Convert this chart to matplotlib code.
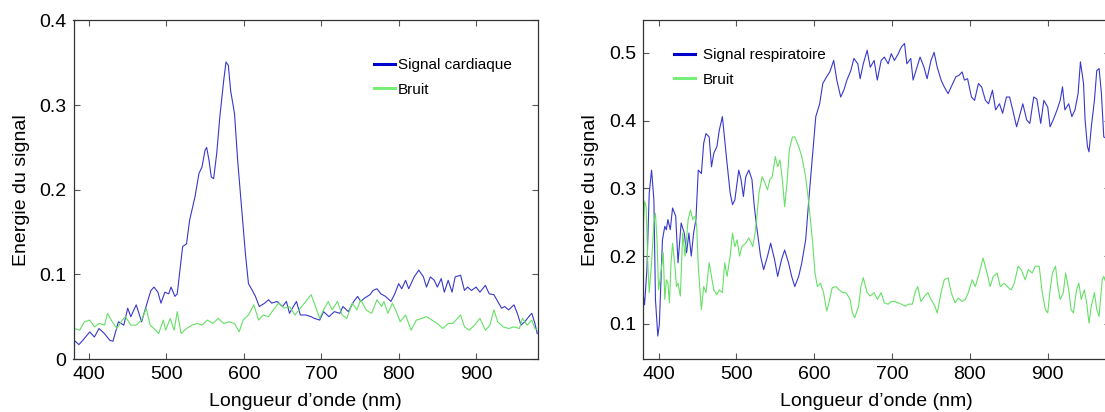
import matplotlib
matplotlib.use("Agg")
import matplotlib.pyplot as plt
from matplotlib.lines import Line2D

plt.rcParams['font.family'] = ['Liberation Sans', 'DejaVu Sans']

# panneau gauche : signal cardiaque / bruit
wl_card = [381, 387, 392, 401, 407, 413, 420, 427, 431, 438, 445, 450, 454, 461, 468, 475,
           480, 484, 489, 493, 498, 503, 506, 511, 514, 516, 521, 526, 530, 537, 542, 546,
           550, 552, 555, 558, 561, 565, 569, 574, 577, 580, 583, 588, 592, 597, 602, 606,
           611, 615, 620, 627, 632, 636, 643, 650, 655, 659, 664, 668, 673, 680, 687, 691,
           698, 703, 710, 717, 724, 728, 735, 742, 747, 751, 756, 763, 767, 772, 777, 783,
           790, 795, 800, 804, 809, 813, 820, 826, 832, 836, 841, 846, 850, 855, 859, 864,
           869, 873, 880, 885, 889, 894, 900, 905, 912, 917, 923, 928, 933, 937, 942, 949,
           954, 958, 963, 968, 972, 976, 979]
card = [0.022, 0.017, 0.022, 0.032, 0.026, 0.036, 0.030, 0.022, 0.021, 0.044, 0.040, 0.060,
        0.050, 0.064, 0.044, 0.066, 0.081, 0.085, 0.079, 0.066, 0.079, 0.077, 0.085, 0.074,
        0.077, 0.093, 0.133, 0.136, 0.164, 0.192, 0.219, 0.227, 0.247, 0.250, 0.235, 0.215,
        0.213, 0.243, 0.286, 0.329, 0.351, 0.347, 0.317, 0.290, 0.235, 0.180, 0.125, 0.089,
        0.081, 0.074, 0.062, 0.066, 0.070, 0.066, 0.068, 0.062, 0.068, 0.054, 0.062, 0.068,
        0.052, 0.052, 0.050, 0.048, 0.046, 0.056, 0.050, 0.056, 0.054, 0.062, 0.056, 0.068,
        0.074, 0.068, 0.072, 0.076, 0.081, 0.083, 0.077, 0.074, 0.068, 0.077, 0.089, 0.083,
        0.093, 0.083, 0.097, 0.105, 0.097, 0.085, 0.097, 0.093, 0.085, 0.095, 0.079, 0.093,
        0.079, 0.097, 0.099, 0.081, 0.085, 0.081, 0.085, 0.079, 0.087, 0.077, 0.076, 0.068,
        0.060, 0.062, 0.058, 0.064, 0.052, 0.040, 0.044, 0.050, 0.054, 0.042, 0.030]

wl_bruit1 = [381, 388, 394, 401, 407, 413, 420, 424, 430, 436, 443, 447, 454, 461, 468, 474,
             479, 484, 490, 496, 499, 505, 510, 514, 519, 526, 533, 540, 546, 553, 560, 567,
             574, 581, 588, 594, 599, 606, 613, 619, 625, 632, 638, 645, 652, 659, 666, 673,
             680, 687, 691, 698, 703, 709, 714, 721, 727, 733, 740, 746, 751, 758, 765, 772,
             778, 781, 786, 792, 797, 802, 809, 816, 823, 830, 836, 843, 850, 857, 864, 870,
             880, 885, 891, 898, 905, 912, 918, 923, 928, 935, 942, 949, 956, 960, 966, 972,
             976, 979]
bruit1 = [0.036, 0.034, 0.044, 0.046, 0.038, 0.042, 0.040, 0.054, 0.044, 0.036, 0.046, 0.050,
          0.040, 0.040, 0.046, 0.060, 0.040, 0.036, 0.030, 0.046, 0.034, 0.048, 0.034, 0.056,
          0.030, 0.036, 0.040, 0.042, 0.040, 0.046, 0.042, 0.048, 0.042, 0.044, 0.042, 0.032,
          0.046, 0.052, 0.064, 0.046, 0.052, 0.050, 0.058, 0.066, 0.060, 0.062, 0.052, 0.060,
          0.068, 0.076, 0.066, 0.048, 0.058, 0.068, 0.058, 0.068, 0.052, 0.048, 0.066, 0.058,
          0.070, 0.058, 0.054, 0.070, 0.062, 0.068, 0.054, 0.066, 0.056, 0.044, 0.052, 0.034,
          0.046, 0.048, 0.050, 0.046, 0.042, 0.036, 0.042, 0.042, 0.052, 0.038, 0.034, 0.040,
          0.048, 0.034, 0.040, 0.058, 0.044, 0.038, 0.036, 0.038, 0.036, 0.048, 0.040, 0.046,
          0.036, 0.034]

# panneau droit : signal respiratoire / bruit
wl_resp = [380, 382, 385, 388, 391, 394, 396, 399, 401, 405, 408, 410, 412, 415, 418, 422,
           425, 429, 433, 436, 439, 442, 445, 448, 451, 455, 458, 461, 465, 468, 471, 475,
           478, 482, 485, 488, 492, 495, 498, 503, 506, 509, 512, 516, 520, 523, 526, 531,
           535, 540, 544, 549, 553, 558, 562, 567, 571, 575, 580, 584, 589, 593, 598, 602,
           607, 611, 616, 620, 625, 629, 634, 638, 642, 647, 651, 656, 659, 663, 668, 672,
           677, 681, 686, 690, 695, 699, 703, 708, 712, 716, 719, 724, 727, 732, 736, 741,
           745, 750, 754, 758, 763, 767, 772, 776, 782, 786, 790, 793, 797, 802, 806, 811,
           815, 820, 824, 829, 833, 838, 842, 847, 851, 855, 860, 864, 868, 873, 877, 882,
           886, 891, 895, 900, 903, 907, 912, 916, 919, 922, 927, 931, 935, 939, 942, 946,
           948, 951, 953, 956, 960, 963, 966, 969, 972, 975]
resp = [0.146, 0.128, 0.180, 0.293, 0.327, 0.283, 0.136, 0.082, 0.099, 0.224, 0.244, 0.239,
        0.254, 0.239, 0.271, 0.259, 0.190, 0.249, 0.234, 0.205, 0.234, 0.200, 0.234, 0.254,
        0.327, 0.322, 0.367, 0.381, 0.376, 0.332, 0.352, 0.362, 0.386, 0.406, 0.371, 0.337,
        0.293, 0.276, 0.283, 0.327, 0.313, 0.288, 0.317, 0.327, 0.313, 0.273, 0.244, 0.200,
        0.180, 0.200, 0.219, 0.195, 0.170, 0.195, 0.209, 0.190, 0.170, 0.155, 0.170, 0.190,
        0.224, 0.283, 0.352, 0.406, 0.425, 0.455, 0.465, 0.472, 0.489, 0.460, 0.435, 0.445,
        0.460, 0.474, 0.492, 0.484, 0.462, 0.484, 0.504, 0.479, 0.489, 0.460, 0.489, 0.494,
        0.484, 0.499, 0.489, 0.499, 0.509, 0.514, 0.484, 0.492, 0.460, 0.479, 0.494, 0.479,
        0.462, 0.489, 0.501, 0.479, 0.460, 0.450, 0.440, 0.450, 0.465, 0.467, 0.472, 0.460,
        0.462, 0.435, 0.430, 0.455, 0.450, 0.430, 0.425, 0.445, 0.416, 0.425, 0.411, 0.435,
        0.435, 0.416, 0.391, 0.408, 0.425, 0.401, 0.396, 0.435, 0.432, 0.396, 0.430, 0.420,
        0.391, 0.401, 0.416, 0.430, 0.450, 0.416, 0.425, 0.406, 0.416, 0.440, 0.487, 0.455,
        0.401, 0.362, 0.354, 0.391, 0.430, 0.474, 0.477, 0.440, 0.376, 0.374]

wl_bruit2 = [380, 382, 384, 386, 388, 391, 394, 396, 398, 400, 403, 406, 408, 410, 412, 414,
             416, 418, 421, 423, 425, 428, 431, 434, 438, 441, 444, 447, 449, 451, 455, 458,
             461, 465, 468, 471, 475, 478, 482, 485, 488, 492, 495, 498, 501, 504, 507, 512,
             516, 521, 524, 526, 529, 533, 536, 540, 543, 546, 550, 553, 556, 559, 562, 565,
             568, 572, 575, 580, 584, 589, 593, 598, 601, 604, 608, 612, 616, 619, 623, 628,
             632, 637, 641, 646, 649, 652, 657, 660, 663, 668, 672, 677, 681, 686, 690, 695,
             699, 703, 708, 712, 717, 721, 726, 730, 733, 737, 742, 746, 750, 755, 758, 763,
             767, 772, 776, 781, 785, 790, 794, 798, 803, 807, 812, 817, 822, 826, 830, 835,
             839, 844, 848, 853, 857, 862, 866, 871, 875, 880, 884, 889, 893, 897, 900, 903,
             906, 910, 913, 916, 920, 923, 927, 930, 933, 937, 940, 943, 947, 950, 953, 956,
             960, 963, 966, 970, 972, 975]
bruit2 = [0.234, 0.281, 0.273, 0.195, 0.146, 0.190, 0.249, 0.263, 0.224, 0.150, 0.175, 0.205,
          0.136, 0.165, 0.160, 0.131, 0.190, 0.219, 0.185, 0.155, 0.160, 0.141, 0.234, 0.200,
          0.254, 0.268, 0.254, 0.259, 0.244, 0.185, 0.121, 0.155, 0.146, 0.190, 0.170, 0.150,
          0.143, 0.150, 0.146, 0.190, 0.170, 0.200, 0.234, 0.214, 0.224, 0.200, 0.214, 0.219,
          0.227, 0.214, 0.234, 0.254, 0.293, 0.317, 0.310, 0.298, 0.313, 0.317, 0.347, 0.332,
          0.342, 0.313, 0.273, 0.308, 0.357, 0.376, 0.376, 0.362, 0.347, 0.317, 0.278, 0.219,
          0.175, 0.155, 0.160, 0.146, 0.119, 0.131, 0.153, 0.155, 0.150, 0.146, 0.146, 0.136,
          0.116, 0.109, 0.126, 0.155, 0.168, 0.146, 0.141, 0.146, 0.136, 0.146, 0.131, 0.129,
          0.133, 0.133, 0.131, 0.129, 0.126, 0.129, 0.129, 0.148, 0.155, 0.133, 0.141, 0.146,
          0.136, 0.126, 0.116, 0.146, 0.165, 0.168, 0.146, 0.131, 0.138, 0.133, 0.136, 0.146,
          0.165, 0.155, 0.175, 0.197, 0.175, 0.155, 0.170, 0.175, 0.155, 0.160, 0.155, 0.150,
          0.160, 0.185, 0.180, 0.165, 0.180, 0.175, 0.185, 0.185, 0.146, 0.121, 0.116, 0.150,
          0.175, 0.185, 0.155, 0.136, 0.146, 0.175, 0.150, 0.121, 0.116, 0.150, 0.160, 0.136,
          0.150, 0.131, 0.101, 0.126, 0.146, 0.121, 0.111, 0.165, 0.170, 0.160]

xticks = [400, 500, 600, 700, 800, 900]
blue_data = '#3838cc'
green_data = '#66e066'
blue_leg = '#0000cc'
green_leg = '#77ee77'

W, H = 1105, 412
fig = plt.figure(figsize=(W / 100, H / 100), dpi=100)
ax1 = fig.add_axes([73.5 / W, 53 / H, 464.5 / W, 338.5 / H])
ax2 = fig.add_axes([643 / W, 53 / H, 467 / W, 338.5 / H])


def style_axes(ax, ylim, yticks, ylabels):
    ax.set_xlim(380, 980)
    ax.set_ylim(*ylim)
    ax.set_xticks(xticks)
    ax.set_xticklabels([str(t) for t in xticks])
    ax.set_yticks(yticks)
    ax.set_yticklabels(ylabels)
    ax.tick_params(direction='in', top=True, right=True, length=4, width=0.8,
                   labelsize=14, pad=5, color='#555555')
    for s in ax.spines.values():
        s.set_color('#333333')
        s.set_linewidth(0.9)
    ax.set_xlabel("Longueur d\u2019onde (nm)", fontsize=14, labelpad=7)
    ax.set_ylabel("Energie du signal", fontsize=14, labelpad=7)


ax1.plot(wl_card, card, color=blue_data, lw=0.8)
ax1.plot(wl_bruit1, bruit1, color=green_data, lw=0.8)
style_axes(ax1, (0, 0.4), [0, 0.1, 0.2, 0.3, 0.4], ['0', '0.1', '0.2', '0.3', '0.4'])

ax2.plot(wl_resp, resp, color=blue_data, lw=0.8)
ax2.plot(wl_bruit2, bruit2, color=green_data, lw=0.8)
style_axes(ax2, (0.048, 0.548), [0.1, 0.2, 0.3, 0.4, 0.5], ['0.1', '0.2', '0.3', '0.4', '0.5'])

h_leg = [Line2D([], [], color=blue_leg, lw=2.2), Line2D([], [], color=green_leg, lw=2.2)]

ax1.legend(h_leg, ['Signal cardiaque', 'Bruit'], frameon=False, fontsize=11,
           loc='upper left', bbox_to_anchor=(374 / W, 1 - 58 / H), bbox_transform=fig.transFigure,
           borderpad=0, borderaxespad=0, handlelength=1.4, handletextpad=0.15, labelspacing=0.7)
ax2.legend(h_leg, ['Signal respiratoire', 'Bruit'], frameon=False, fontsize=11,
           loc='upper left', bbox_to_anchor=(674 / W, 1 - 48 / H), bbox_transform=fig.transFigure,
           borderpad=0, borderaxespad=0, handlelength=1.4, handletextpad=0.5, labelspacing=0.7)

fig.savefig('out.png', dpi=100)
